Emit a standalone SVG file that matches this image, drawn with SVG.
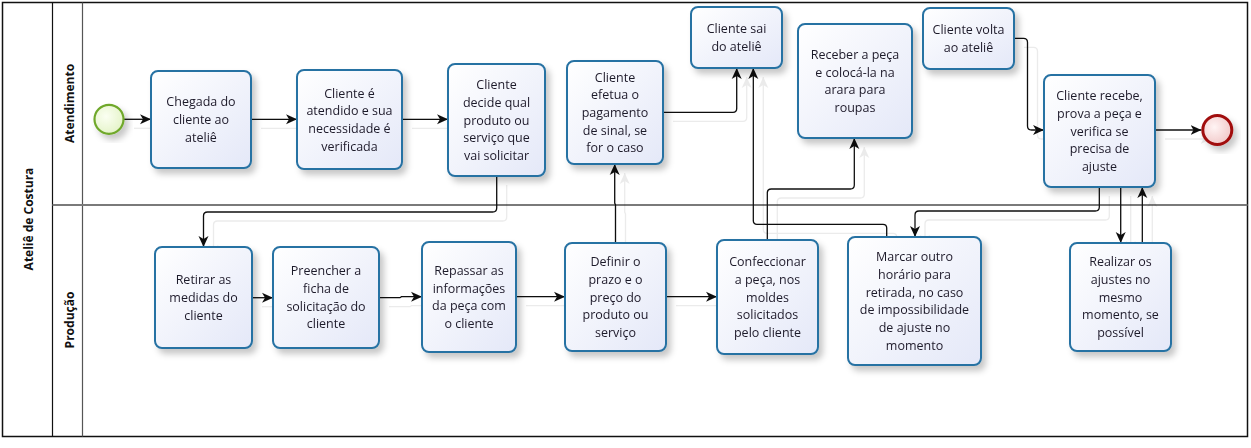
<svg xmlns="http://www.w3.org/2000/svg" width="1251" height="448" viewBox="0 0 1251 448">
<defs>
<style>
.frame{fill:#fff;stroke:#111;stroke-width:1.5}
.lane{stroke:#111;stroke-width:1.2;fill:none}
.divider{stroke:#7a7a7a;stroke-width:2;fill:none}
.hdr{font-family:"Open Sans","Noto Sans",sans-serif;font-weight:bold;font-size:12px;fill:#111;text-anchor:middle}
.task rect{fill:url(#taskFill);stroke:#2872a3;stroke-width:2}
.task{filter:url(#shadow)}
.task text{font-family:"Open Sans","Noto Sans",sans-serif;font-size:12.5px;fill:#1e1a2a;text-anchor:middle}
.conn path{fill:none;stroke:#111;stroke-width:1.3;marker-end:url(#arrow)}
</style>
<linearGradient id="taskFill" x1="0" y1="0" x2="1" y2="1">
<stop offset="0" stop-color="#ffffff"/>
<stop offset="1" stop-color="#e4e8f8"/>
</linearGradient>
<radialGradient id="startFill" cx="0.4" cy="0.4" r="0.7">
<stop offset="0" stop-color="#fbfff2"/>
<stop offset="1" stop-color="#e2f2c4"/>
</radialGradient>
<radialGradient id="endFill" cx="0.4" cy="0.4" r="0.7">
<stop offset="0" stop-color="#fff4f4"/>
<stop offset="1" stop-color="#f0c4c4"/>
</radialGradient>
<filter id="shadow" x="-20%" y="-20%" width="150%" height="150%">
<feDropShadow dx="4" dy="5" stdDeviation="3" flood-color="#000" flood-opacity="0.22"/>
</filter>
<filter id="ghost" x="-5%" y="-5%" width="115%" height="115%">
<feDropShadow dx="10" dy="9" stdDeviation="0.4" flood-color="#000" flood-opacity="0.08"/>
</filter>
<marker id="arrow" markerUnits="userSpaceOnUse" markerWidth="12" markerHeight="11" refX="11" refY="5.5" orient="auto">
<path d="M0,0.5 L11,5.5 L0,10.5 L3,5.5 Z" fill="#111"/>
</marker>
</defs>

<g id="pool">
<rect class="frame" x="2.5" y="2.5" width="1245" height="434"/>
<line class="lane" x1="52.5" y1="2.5" x2="52.5" y2="436.5"/>
<line class="lane" x1="82.5" y1="2.5" x2="82.5" y2="436.5" style="stroke:#555"/>
<line class="divider" x1="52.5" y1="205" x2="1247.5" y2="205"/>
<text class="hdr" transform="translate(33,219) rotate(-90)">Ateliê de Costura</text>
<text class="hdr" transform="translate(73.5,103.5) rotate(-90)">Atendimento</text>
<text class="hdr" transform="translate(73.5,320) rotate(-90)">Produção</text>
</g>

<g id="connectors" class="conn" filter="url(#ghost)">
<path d="M124,119.3 H151"/>
<path d="M251,119.3 H297"/>
<path d="M402,119.3 H448"/>
<path d="M496.7,176 V208 Q496.7,212 492.7,212 H207.5 Q203.5,212 203.5,216 V247"/>
<path d="M252,297.7 H273"/>
<path d="M379,297.7 H400 L401.5,296.7 H422"/>
<path d="M516,296.7 H565"/>
<path d="M666,296.7 H717"/>
<path d="M615.5,243 V205 L614.7,203 V164"/>
<path d="M663,112.3 H733 Q736.7,112.3 736.7,108.5 V68"/>
<path d="M886.7,237 V228 Q886.7,224.3 883,224.3 H757 Q753.3,224.3 753.3,220.5 V68"/>
<path d="M767.3,240 V193 Q767.3,189 771.3,189 H850.3 Q854.3,189 854.3,185 V138"/>
<path d="M1014,38.3 H1023.5 Q1027.5,38.3 1027.5,42.3 V126 Q1027.5,130 1031.5,130 H1044"/>
<path d="M1155,130 H1201.5"/>
<path d="M1099.3,187 V207 Q1099.3,211 1095.3,211 H919 Q915,211 915,215 V237"/>
<path d="M1120.7,187 V243"/>
<path d="M1142.3,243 V187"/>
</g>

<g id="start" style="filter:url(#shadow)">
<circle cx="109" cy="119.3" r="14.5" fill="url(#startFill)" stroke="#6fa82b" stroke-width="2.2"/>
</g>
<g id="end" style="filter:url(#shadow)">
<circle cx="1217.3" cy="130" r="14.5" fill="url(#endFill)" stroke="#a10d0d" stroke-width="3"/>
</g>

<g id="chegada" class="task">
<rect x="151" y="71" width="100" height="97" rx="7"/>
<text><tspan x="201" y="106.3">Chegada do</tspan><tspan x="201" y="124">cliente ao</tspan><tspan x="201" y="141.7">ateliê</tspan></text>
</g>
<g id="atendido" class="task">
<rect x="297" y="70" width="105" height="99" rx="7"/>
<text><tspan x="349.5" y="97.5">Cliente é</tspan><tspan x="349.5" y="115.2">atendido e sua</tspan><tspan x="349.5" y="132.9">necessidade é</tspan><tspan x="349.5" y="150.6">verificada</tspan></text>
</g>
<g id="decide" class="task">
<rect x="448" y="64" width="97" height="112" rx="7"/>
<text><tspan x="496.5" y="89.1">Cliente</tspan><tspan x="496.5" y="106.8">decide qual</tspan><tspan x="496.5" y="124.5">produto ou</tspan><tspan x="496.5" y="142.2">serviço que</tspan><tspan x="496.5" y="159.9">vai solicitar</tspan></text>
</g>
<g id="efetua" class="task">
<rect x="567" y="61" width="96" height="103" rx="7"/>
<text><tspan x="615" y="81.6">Cliente</tspan><tspan x="615" y="99.3">efetua o</tspan><tspan x="615" y="117">pagamento</tspan><tspan x="615" y="134.7">de sinal, se</tspan><tspan x="615" y="152.4">for o caso</tspan></text>
</g>
<g id="sai" class="task">
<rect x="691" y="7" width="91" height="61" rx="7"/>
<text><tspan x="736.5" y="33">Cliente sai</tspan><tspan x="736.5" y="50.7">do ateliê</tspan></text>
</g>
<g id="receber" class="task">
<rect x="798" y="24" width="114" height="114" rx="7"/>
<text><tspan x="855" y="59">Receber a peça</tspan><tspan x="855" y="76.7">e colocá-la na</tspan><tspan x="855" y="94.4">arara para</tspan><tspan x="855" y="112.1">roupas</tspan></text>
</g>
<g id="volta" class="task">
<rect x="923" y="8" width="91" height="61" rx="7"/>
<text><tspan x="968.5" y="34.2">Cliente volta</tspan><tspan x="968.5" y="51.9">ao ateliê</tspan></text>
</g>
<g id="recebe" class="task">
<rect x="1044" y="75" width="111" height="112" rx="7"/>
<text><tspan x="1099.5" y="100.1">Cliente recebe,</tspan><tspan x="1099.5" y="117.8">prova a peça e</tspan><tspan x="1099.5" y="135.5">verifica se</tspan><tspan x="1099.5" y="153.2">precisa de</tspan><tspan x="1099.5" y="170.9">ajuste</tspan></text>
</g>
<g id="retirar" class="task">
<rect x="155" y="247" width="97" height="101" rx="7"/>
<text><tspan x="203.5" y="284.3">Retirar as</tspan><tspan x="203.5" y="302">medidas do</tspan><tspan x="203.5" y="319.7">cliente</tspan></text>
</g>
<g id="preencher" class="task">
<rect x="273" y="247" width="106" height="101" rx="7"/>
<text><tspan x="326" y="275.2">Preencher a</tspan><tspan x="326" y="292.9">ficha de</tspan><tspan x="326" y="310.6">solicitação do</tspan><tspan x="326" y="328.3">cliente</tspan></text>
</g>
<g id="repassar" class="task">
<rect x="422" y="242" width="94" height="110" rx="7"/>
<text><tspan x="469" y="275">Repassar as</tspan><tspan x="469" y="292.7">informações</tspan><tspan x="469" y="310.4">da peça com</tspan><tspan x="469" y="328.1">o cliente</tspan></text>
</g>
<g id="definir" class="task">
<rect x="565" y="243" width="101" height="108" rx="7"/>
<text><tspan x="615.5" y="266.1">Definir o</tspan><tspan x="615.5" y="283.8">prazo e o</tspan><tspan x="615.5" y="301.5">preço do</tspan><tspan x="615.5" y="319.2">produto ou</tspan><tspan x="615.5" y="336.9">serviço</tspan></text>
</g>
<g id="confeccionar" class="task">
<rect x="717" y="240" width="101" height="114" rx="7"/>
<text><tspan x="767.5" y="266.1">Confeccionar</tspan><tspan x="767.5" y="283.8">a peça, nos</tspan><tspan x="767.5" y="301.5">moldes</tspan><tspan x="767.5" y="319.2">solicitados</tspan><tspan x="767.5" y="336.9">pelo cliente</tspan></text>
</g>
<g id="marcar" class="task">
<rect x="848" y="237" width="133" height="128" rx="7"/>
<text><tspan x="914.5" y="261.3">Marcar outro</tspan><tspan x="914.5" y="279">horário para</tspan><tspan x="914.5" y="296.7">retirada, no caso</tspan><tspan x="914.5" y="314.4">de impossibilidade</tspan><tspan x="914.5" y="332.1">de ajuste no</tspan><tspan x="914.5" y="349.8">momento</tspan></text>
</g>
<g id="realizar" class="task">
<rect x="1070" y="243" width="101" height="108" rx="7"/>
<text><tspan x="1120.5" y="266.1">Realizar os</tspan><tspan x="1120.5" y="283.8">ajustes no</tspan><tspan x="1120.5" y="301.5">mesmo</tspan><tspan x="1120.5" y="319.2">momento, se</tspan><tspan x="1120.5" y="336.9">possível</tspan></text>
</g>
</svg>
